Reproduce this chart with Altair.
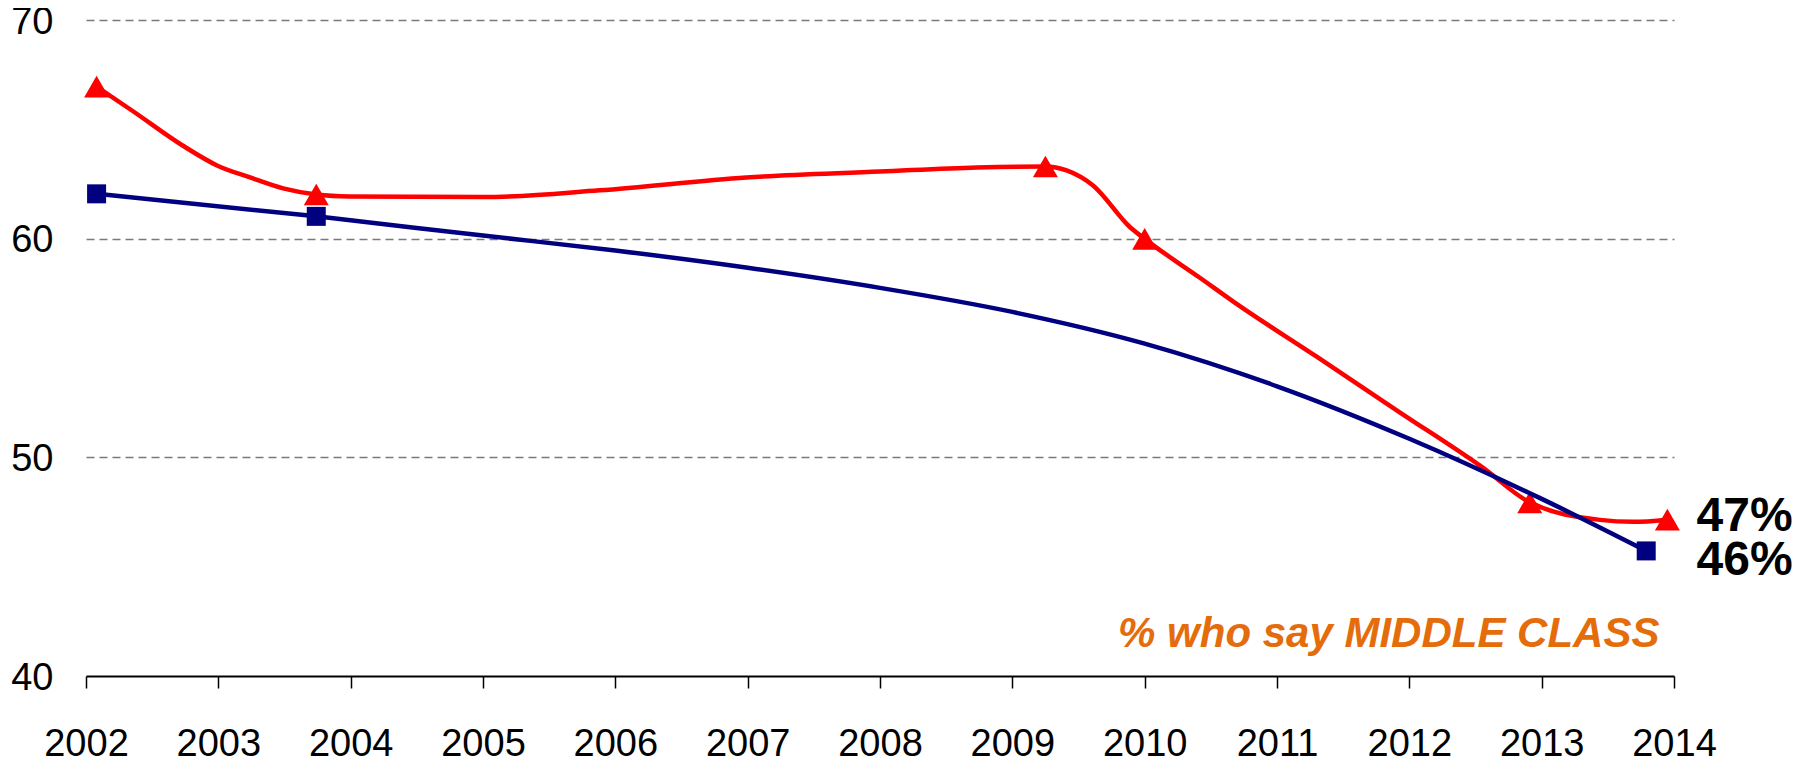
import altair as alt
import pandas as pd

FONT = "Liberation Sans"

# axis ticks
x_ticks = list(range(2002, 2015))
y_ticks = [40, 50, 60, 70]

# survey points (markers)
red_years = [2002.08, 2003.74, 2009.25, 2010.00, 2012.91, 2013.95]
red_values = [66.95, 62.02, 63.30, 59.99, 47.94, 47.15]
blue_years = [2002.08, 2003.74, 2013.79]
blue_values = [62.05, 61.02, 45.72]

# smoothed line paths
red_path_years = [2002.08, 2002.35, 2002.73, 2002.99, 2003.24, 2003.49, 2003.74, 2003.99,
                  2005.00, 2005.88, 2006.99, 2008.00, 2008.73, 2009.25, 2009.41, 2009.61,
                  2009.89, 2010.00, 2010.42, 2010.67, 2011.30, 2011.93, 2012.55, 2012.91,
                  2013.44, 2013.69, 2013.95]
red_path_values = [66.95, 65.85, 64.26, 63.35, 62.80, 62.30, 62.02, 61.93,
                   61.90, 62.21, 62.80, 63.07, 63.26, 63.30, 63.12, 62.43,
                   60.52, 59.99, 58.20, 57.12, 54.60, 52.05, 49.55, 47.94,
                   47.14, 47.05, 47.15]
blue_path_years = [2002.08, 2003.74, 2005.00, 2006.00, 2007.00, 2008.00, 2009.00,
                   2010.00, 2011.00, 2012.00, 2013.00, 2013.79]
blue_path_values = [62.05, 61.02, 60.14, 59.46, 58.67, 57.75, 56.65,
                    55.20, 53.25, 50.85, 48.10, 45.72]

# end labels
end_label_texts = ["47%", "46%"]
end_label_years = [2014.17, 2014.17]
end_label_values = [47.27, 45.26]

# annotation
note_text = ["% who say MIDDLE CLASS"]
note_year = [2013.89]
note_value = [41.34]

red_pts = pd.DataFrame({"year": red_years, "value": red_values})
blue_pts = pd.DataFrame({"year": blue_years, "value": blue_values})
red_path = pd.DataFrame({"year": red_path_years, "value": red_path_values})
blue_path = pd.DataFrame({"year": blue_path_years, "value": blue_path_values})
end_df = pd.DataFrame({"year": end_label_years, "value": end_label_values, "label": end_label_texts})
note_df = pd.DataFrame({"year": note_year, "value": note_value, "label": note_text})

x_axis = alt.Axis(
    values=x_ticks, format="d", title=None, grid=False,
    domainColor="black", domainWidth=2, tickColor="black", tickWidth=1.5, tickSize=12,
    labelFontSize=38, labelFont=FONT, labelColor="black", labelPadding=37,
    labelFlush=False, labelOverlap=False,
)
y_axis = alt.Axis(
    values=y_ticks, title=None, domain=False, ticks=False, grid=True,
    gridDash=[8, 5], gridColor="#7a7a7a", gridWidth=1.3,
    gridOpacity={"condition": {"test": "datum.value === 40", "value": 0}, "value": 1},
    labelFontSize=38, labelFont=FONT, labelColor="black", labelPadding=33,
    labelOffset=2, labelFlush=False,
)

x_enc = alt.X("year:Q", scale=alt.Scale(domain=[2002, 2014], nice=False, zero=False), axis=x_axis)
y_enc = alt.Y("value:Q", scale=alt.Scale(domain=[40, 70], nice=False, zero=False), axis=y_axis)

red_line = alt.Chart(red_path).mark_line(color="#FF0000", strokeWidth=4.5, interpolate="monotone").encode(x=x_enc, y=y_enc)
red_marks = alt.Chart(red_pts).mark_point(shape="triangle-up", filled=True, color="#FF0000", size=625, opacity=1).encode(x=x_enc, y=y_enc)
blue_line = alt.Chart(blue_path).mark_line(color="#000080", strokeWidth=4.5, interpolate="monotone").encode(x=x_enc, y=y_enc)
blue_marks = alt.Chart(blue_pts).mark_point(shape="square", filled=True, color="#000080", size=361, opacity=1).encode(x=x_enc, y=y_enc)

end_text = alt.Chart(end_df).mark_text(
    align="left", baseline="middle", font=FONT, fontSize=48, fontWeight="bold", color="black"
).encode(x=x_enc, y=y_enc, text="label:N")

note = alt.Chart(note_df).mark_text(
    align="right", baseline="alphabetic", font=FONT, fontSize=42, fontWeight="bold",
    fontStyle="italic", color="#E46C0A"
).encode(x=x_enc, y=y_enc, text="label:N")

chart = alt.layer(red_line, red_marks, blue_line, blue_marks, end_text, note).properties(
    width=1588, height=656,
    autosize=alt.AutoSizeParams(type="none"),
    padding={"left": 78, "top": 12, "right": 121, "bottom": 87},
).configure_view(stroke=None)

chart.save("out.html", embed_options={"renderer": "svg", "actions": False})
